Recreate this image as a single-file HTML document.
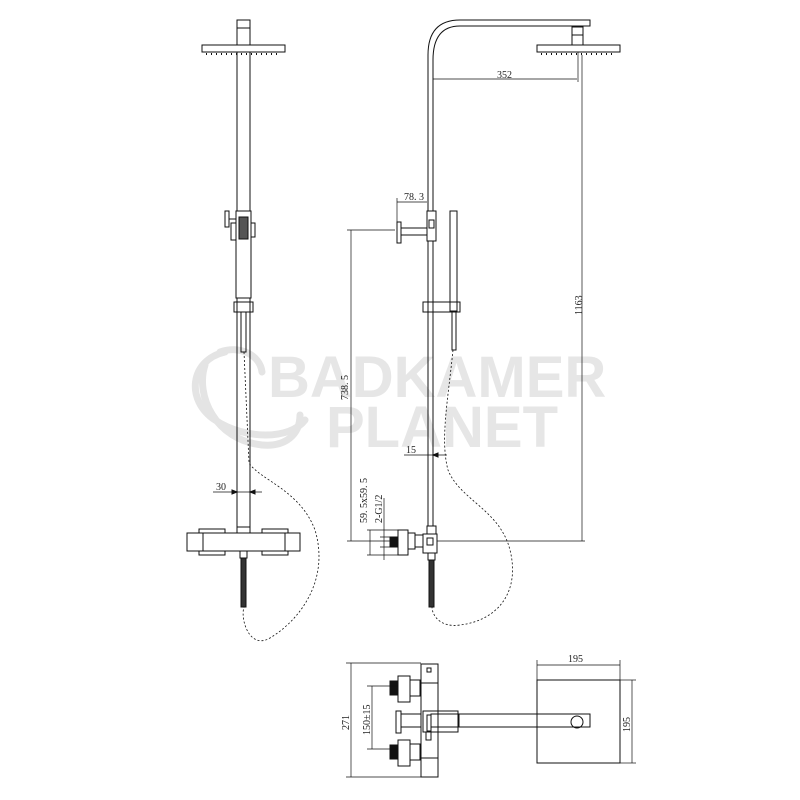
<!DOCTYPE html>
<html><head><meta charset="utf-8"><style>
html,body{margin:0;padding:0;background:#fff}
svg{display:block}
text{font-family:"Liberation Serif",serif;font-size:10px;fill:#222}
.wm{font-family:"Liberation Sans",sans-serif;font-weight:bold;font-size:58px;fill:#e6e6e6}
</style></head><body>
<svg width="800" height="800" viewBox="0 0 800 800" xmlns="http://www.w3.org/2000/svg">
<!-- watermark -->
<g fill="none" stroke="#e4e4e4" stroke-width="7" stroke-linecap="round">
<path d="M225 352 C190 360 185 400 215 420 C245 440 290 440 305 420"/>
<path d="M205 365 C195 395 215 440 262 445 C285 447 300 435 300 415"/>
<path d="M220 352 C240 345 260 355 262 372"/>
</g>
<text class="wm" x="268" y="397">BADKAMER</text>
<text class="wm" x="326" y="447">PLANET</text>

<g fill="none" stroke="#111" stroke-width="1">
<!-- LEFT VIEW -->
<rect x="237" y="20" width="13" height="8"/>
<rect x="237" y="28" width="13" height="17"/>
<rect x="202" y="45" width="83" height="7"/>
<line x1="206" y1="54" x2="281" y2="54" stroke-dasharray="1 4" stroke-width="2"/>
<line x1="237" y1="52" x2="237" y2="211"/><line x1="250" y1="52" x2="250" y2="211"/>
<rect x="236" y="211" width="15" height="87"/>
<rect x="239" y="217" width="9" height="22" fill="#555" stroke="#111"/>
<rect x="231" y="223" width="5" height="17"/>
<rect x="251" y="223" width="4" height="14"/>
<rect x="225" y="211" width="4" height="16"/>
<line x1="229" y1="219" x2="236" y2="219"/>
<rect x="234" y="302" width="19" height="10"/>
<line x1="237" y1="298" x2="237" y2="527"/><line x1="250" y1="298" x2="250" y2="527"/>
<rect x="241" y="312" width="5" height="40"/>
<rect x="237" y="527" width="13" height="6"/>
<rect x="187" y="533" width="113" height="18"/>
<line x1="203" y1="533" x2="203" y2="551"/><line x1="285" y1="533" x2="285" y2="551"/>
<rect x="199" y="529" width="26" height="4"/><rect x="262" y="529" width="26" height="4"/>
<rect x="199" y="551" width="26" height="4"/><rect x="262" y="551" width="26" height="4"/>
<rect x="240" y="551" width="7" height="7"/>
<rect x="241" y="558" width="5" height="49" fill="#333"/>
<path d="M244 352 L249 463 C260 480 300 490 315 530 C330 580 300 620 270 638 C250 650 240 620 244 607" stroke-dasharray="2 2" stroke-width="0.8"/>
<!-- dim 30 -->
<line x1="213" y1="492" x2="262" y2="492" stroke-width="0.7"/>
<path d="M237 492 l-5 -2 v4z M250 492 l5 -2 v4z" fill="#111"/>

<!-- RIGHT VIEW -->
<path d="M428 211 L428 55 Q428 20 460 20 L590 20 L590 26 L460 26 Q433 26 433 60 L433 211"/>
<rect x="572" y="27" width="11" height="8"/>
<rect x="572" y="35" width="11" height="10"/>
<rect x="537" y="45" width="83" height="7"/>
<line x1="541" y1="54" x2="616" y2="54" stroke-dasharray="1 4" stroke-width="2"/>
<line x1="433" y1="79" x2="577" y2="79" stroke-width="0.7"/>
<line x1="578" y1="52" x2="578" y2="82" stroke-width="0.7"/>
<line x1="582" y1="55" x2="582" y2="541" stroke-width="0.7"/>
<!-- slider top / arm -->
<rect x="427" y="211" width="9" height="30"/>
<rect x="429" y="220" width="5" height="8"/>
<rect x="401" y="228" width="26" height="7"/>
<rect x="397" y="222" width="4" height="21"/>
<line x1="397" y1="198" x2="397" y2="222" stroke-width="0.7"/>
<line x1="397" y1="202" x2="427" y2="202" stroke-width="0.7"/>
<!-- handshower right -->
<rect x="450" y="211" width="7" height="100"/>
<rect x="452" y="312" width="4" height="38"/>
<rect x="423" y="302" width="37" height="10"/>
<line x1="428" y1="241" x2="428" y2="526"/><line x1="433" y1="241" x2="433" y2="526"/>
<!-- 738.5 dim -->
<line x1="347" y1="230" x2="395" y2="230" stroke-width="0.7"/>
<line x1="351" y1="230" x2="351" y2="541" stroke-width="0.7"/>
<line x1="347" y1="541" x2="398" y2="541" stroke-width="0.7"/>
<line x1="437" y1="541" x2="585" y2="541" stroke-width="0.7"/>
<!-- bottom T -->
<rect x="427" y="526" width="9" height="8"/>
<rect x="423" y="534" width="14" height="19"/>
<rect x="427" y="538" width="6" height="7"/>
<rect x="415" y="535" width="8" height="12"/>
<rect x="408" y="533" width="7" height="16"/>
<rect x="398" y="530" width="10" height="25"/>
<rect x="390" y="537" width="7" height="10" fill="#111"/>
<line x1="367" y1="530" x2="398" y2="530" stroke-width="0.7"/>
<line x1="367" y1="555" x2="398" y2="555" stroke-width="0.7"/>
<line x1="370" y1="530" x2="370" y2="555" stroke-width="0.7"/>
<line x1="384" y1="498" x2="384" y2="560" stroke-width="0.7"/>
<line x1="380" y1="537" x2="397" y2="537" stroke-width="0.7"/>
<line x1="380" y1="547" x2="397" y2="547" stroke-width="0.7"/>
<rect x="428" y="553" width="7" height="7"/>
<rect x="429" y="560" width="5" height="47" fill="#333"/>
<path d="M453 350 C448 400 440 440 448 470 C460 500 500 510 510 550 C520 590 500 620 460 625 C440 628 432 615 432 607" stroke-dasharray="2 2" stroke-width="0.8"/>
<line x1="404" y1="455" x2="447" y2="455" stroke-width="0.7"/>
<path d="M433 455 l5 -2 v4z" fill="#111"/>

<!-- BOTTOM VIEW -->
<line x1="346" y1="663" x2="421" y2="663" stroke-width="0.7"/>
<line x1="346" y1="777" x2="421" y2="777" stroke-width="0.7"/>
<line x1="351" y1="663" x2="351" y2="777" stroke-width="0.7"/>
<rect x="421" y="664" width="17" height="113"/>
<line x1="421" y1="683" x2="438" y2="683"/><line x1="421" y1="758" x2="438" y2="758"/>
<rect x="427" y="668" width="4" height="4"/>
<rect x="398" y="676" width="12" height="26"/><rect x="390" y="681" width="8" height="14" fill="#111"/><rect x="410" y="680" width="10" height="16"/>
<rect x="398" y="740" width="12" height="26"/><rect x="390" y="745" width="8" height="14" fill="#111"/><rect x="410" y="744" width="10" height="16"/>
<line x1="367" y1="686" x2="398" y2="686" stroke-width="0.7"/>
<line x1="367" y1="749" x2="398" y2="749" stroke-width="0.7"/>
<line x1="372" y1="686" x2="372" y2="749" stroke-width="0.7"/>
<rect x="396" y="711" width="5" height="22"/>
<rect x="401" y="714" width="20" height="13"/>
<rect x="423" y="711" width="35" height="21"/>
<rect x="427" y="715" width="4" height="16"/>
<rect x="431" y="714" width="28" height="13"/>
<rect x="459" y="714" width="131" height="13"/>
<rect x="426" y="732" width="5" height="8"/>
<rect x="537" y="680" width="83" height="83"/>
<circle cx="577" cy="722" r="6"/>
<line x1="537" y1="660" x2="537" y2="680" stroke-width="0.7"/>
<line x1="620" y1="660" x2="620" y2="680" stroke-width="0.7"/>
<line x1="537" y1="665" x2="620" y2="665" stroke-width="0.7"/>
<line x1="620" y1="680" x2="636" y2="680" stroke-width="0.7"/>
<line x1="620" y1="763" x2="636" y2="763" stroke-width="0.7"/>
<line x1="632" y1="680" x2="632" y2="763" stroke-width="0.7"/>
</g>

<text x="497" y="78">352</text>
<text x="404" y="200">78. 3</text>
<text x="216" y="490">30</text>
<text x="406" y="453">15</text>
<text transform="translate(582 315) rotate(-90)">1163</text>
<text transform="translate(348 400) rotate(-90)">738. 5</text>
<text transform="translate(367 523) rotate(-90)">59. 5x59. 5</text>
<text transform="translate(382 523) rotate(-90)">2-G1/2</text>
<text x="568" y="662">195</text>
<text transform="translate(630 732) rotate(-90)">195</text>
<text transform="translate(349 730) rotate(-90)">271</text>
<text transform="translate(370 735) rotate(-90)">150±15</text>
</svg>
</body></html>
